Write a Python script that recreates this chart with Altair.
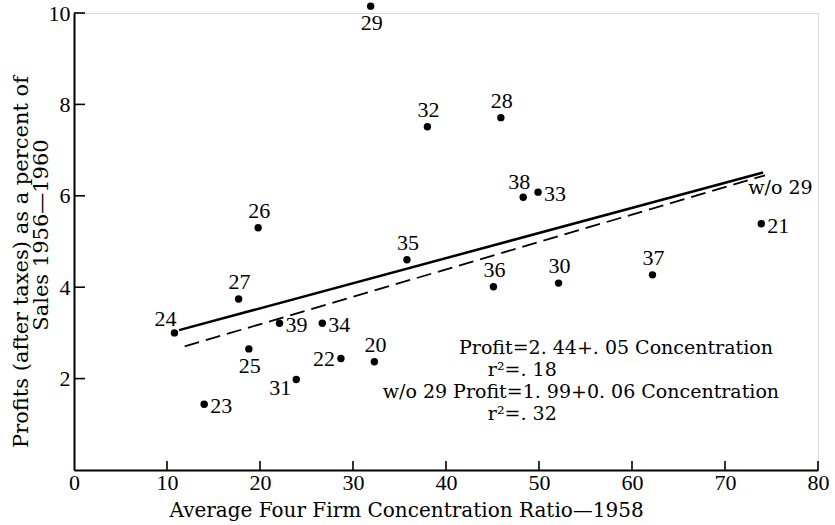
import altair as alt
import pandas as pd

# Industry codes with concentration ratio and after-tax profit rate
industry = [20, 21, 22, 23, 24, 25, 26, 27, 28, 29,
            30, 31, 32, 33, 34, 35, 36, 37, 38, 39]
concentration = [32.3, 73.9, 28.7, 14.0, 10.8, 18.8, 19.8, 17.7, 45.9, 31.9,
                 52.1, 23.9, 38.0, 49.9, 26.7, 35.8, 45.1, 62.2, 48.3, 22.1]
profit = [2.37, 5.39, 2.44, 1.44, 3.00, 2.65, 5.30, 3.74, 7.71, 10.15,
          4.09, 1.98, 7.51, 6.08, 3.21, 4.60, 4.01, 4.27, 5.97, 3.21]

# Regression lines: intercept, slope and x-range of each drawn segment
fit_names = ["all", "without 29"]
fit_intercept = [2.44, 1.99]
fit_slope = [0.0549, 0.06]
fit_x_start = [11.3, 11.9]
fit_x_end = [74.1, 74.3]

x_ticks = [10, 20, 30, 40, 50, 60, 70, 80]
y_ticks = [2, 4, 6, 8, 10]

# Where each industry number sits relative to its dot
placement = {
    20: "above", 21: "right", 22: "left", 23: "right", 24: "above_left",
    25: "below", 26: "above", 27: "above", 28: "above", 29: "below",
    30: "above", 31: "below_left", 32: "above", 33: "right", 34: "right",
    35: "above", 36: "above", 37: "above", 38: "above_left2", 39: "right",
}
placement_style = {
    "above": dict(align="center", dx=1, dy=-17),
    "below": dict(align="center", dx=1, dy=17),
    "right": dict(align="left", dx=6, dy=2),
    "left": dict(align="right", dx=-6, dy=1),
    "above_left": dict(align="center", dx=-9, dy=-14),
    "above_left2": dict(align="center", dx=-4, dy=-15),
    "below_left": dict(align="right", dx=-5, dy=8),
}

# Equation annotations
notes = [
    "Profit=2. 44+. 05  Concentration",
    "r²=. 18",
    "w/o 29  Profit=1. 99+0. 06 Concentration",
    "r²=. 32",
    "w/o 29",
]
note_x = [41.4, 44.5, 33.2, 44.5, 72.5]
note_y = [2.67, 2.19, 1.71, 1.23, 6.17]

FONT = "Liberation Serif"
FONT2 = "DejaVu Serif"
W, H = 744, 457

pts = pd.DataFrame({"industry": industry, "conc": concentration, "profit": profit})
pts["place"] = pts["industry"].map(placement)

fit_rows = []
for name, a, b, x0, x1 in zip(fit_names, fit_intercept, fit_slope, fit_x_start, fit_x_end):
    for xv in (x0, x1):
        fit_rows.append({"fit": name, "conc": xv, "profit": a + b * xv})
fits = pd.DataFrame(fit_rows)

xs = alt.Scale(domain=[0, 80], nice=False)
ys = alt.Scale(domain=[0, 10], nice=False)

base_x = alt.X("conc:Q", scale=xs, axis=alt.Axis(
    values=[0] + x_ticks, title="Average Four Firm Concentration Ratio—1958",
    titleX=95, titleY=40, titleAlign="left", titleBaseline="middle",
    titleFont=FONT2, titleFontSize=20, titleFontWeight="normal", titleColor="black",
    labelFont=FONT, labelFontSize=22, labelColor="black", labelPadding=2,
    domainColor="black", domainWidth=2, tickSize=0, grid=False, labelFlush=False))
base_y = alt.Y("profit:Q", scale=ys, axis=alt.Axis(
    values=y_ticks, title=None,
    labelFont=FONT, labelFontSize=22, labelColor="black", labelPadding=4,
    domainColor="black", domainWidth=2, tickSize=0, grid=False))

dots = alt.Chart(pts).mark_circle(size=55, color="black", opacity=1).encode(
    x=base_x, y=base_y)

label_layers = []
for key, style in placement_style.items():
    label_layers.append(
        alt.Chart(pts).transform_filter(alt.datum.place == key)
        .mark_text(font=FONT, fontSize=22, color="black", baseline="middle", **style)
        .encode(x=alt.X("conc:Q", scale=xs), y=alt.Y("profit:Q", scale=ys),
                text="industry:N"))

solid = alt.Chart(fits).transform_filter(alt.datum.fit == "all").mark_line(
    color="black", strokeWidth=2.5).encode(
    x=alt.X("conc:Q", scale=xs), y=alt.Y("profit:Q", scale=ys))
dashed = alt.Chart(fits).transform_filter(alt.datum.fit == "without 29").mark_line(
    color="black", strokeWidth=1.8, strokeDash=[15, 7]).encode(
    x=alt.X("conc:Q", scale=xs), y=alt.Y("profit:Q", scale=ys))

notes_df = pd.DataFrame({"text": notes, "x": note_x, "y": note_y})
note_text = alt.Chart(notes_df).mark_text(
    font=FONT2, fontSize=19, color="black", align="left", baseline="middle").encode(
    x=alt.X("x:Q", scale=xs), y=alt.Y("y:Q", scale=ys), text="text:N")

# Inward tick marks on both axes
xtick = alt.Chart(pd.DataFrame({"v": x_ticks})).mark_rule(
    color="black", strokeWidth=1.6).encode(
    x=alt.X("v:Q", scale=xs), y=alt.value(H), y2=alt.value(H - 9))
ytick = alt.Chart(pd.DataFrame({"v": y_ticks})).mark_rule(
    color="black", strokeWidth=1.6).encode(
    y=alt.Y("v:Q", scale=ys), x=alt.value(0), x2=alt.value(11))

# Two-line rotated y title
ytitle_df = pd.DataFrame({
    "text": ["Profits (after taxes) as a percent of", "Sales 1956—1960"],
    "line": [0, 1]})
ytitle1 = alt.Chart(ytitle_df).transform_filter(alt.datum.line == 0).mark_text(
    font=FONT2, fontSize=21, color="black", angle=270, align="center",
    baseline="middle").encode(x=alt.value(-52), y=alt.value(249), text="text:N")
ytitle2 = alt.Chart(ytitle_df).transform_filter(alt.datum.line == 1).mark_text(
    font=FONT2, fontSize=21, color="black", angle=270, align="center",
    baseline="middle").encode(x=alt.value(-32), y=alt.value(222), text="text:N")

chart = alt.layer(
    dots, solid, dashed, xtick, ytick, note_text, ytitle1, ytitle2, *label_layers
).properties(
    width=W, height=H,
    autosize=alt.AutoSizeParams(type="none"),
    padding={"left": 74, "top": 13, "right": 17, "bottom": 55},
).configure_view(stroke=None).configure(background="white")

chart.save("out.html", embed_options={"renderer": "svg", "actions": False})
